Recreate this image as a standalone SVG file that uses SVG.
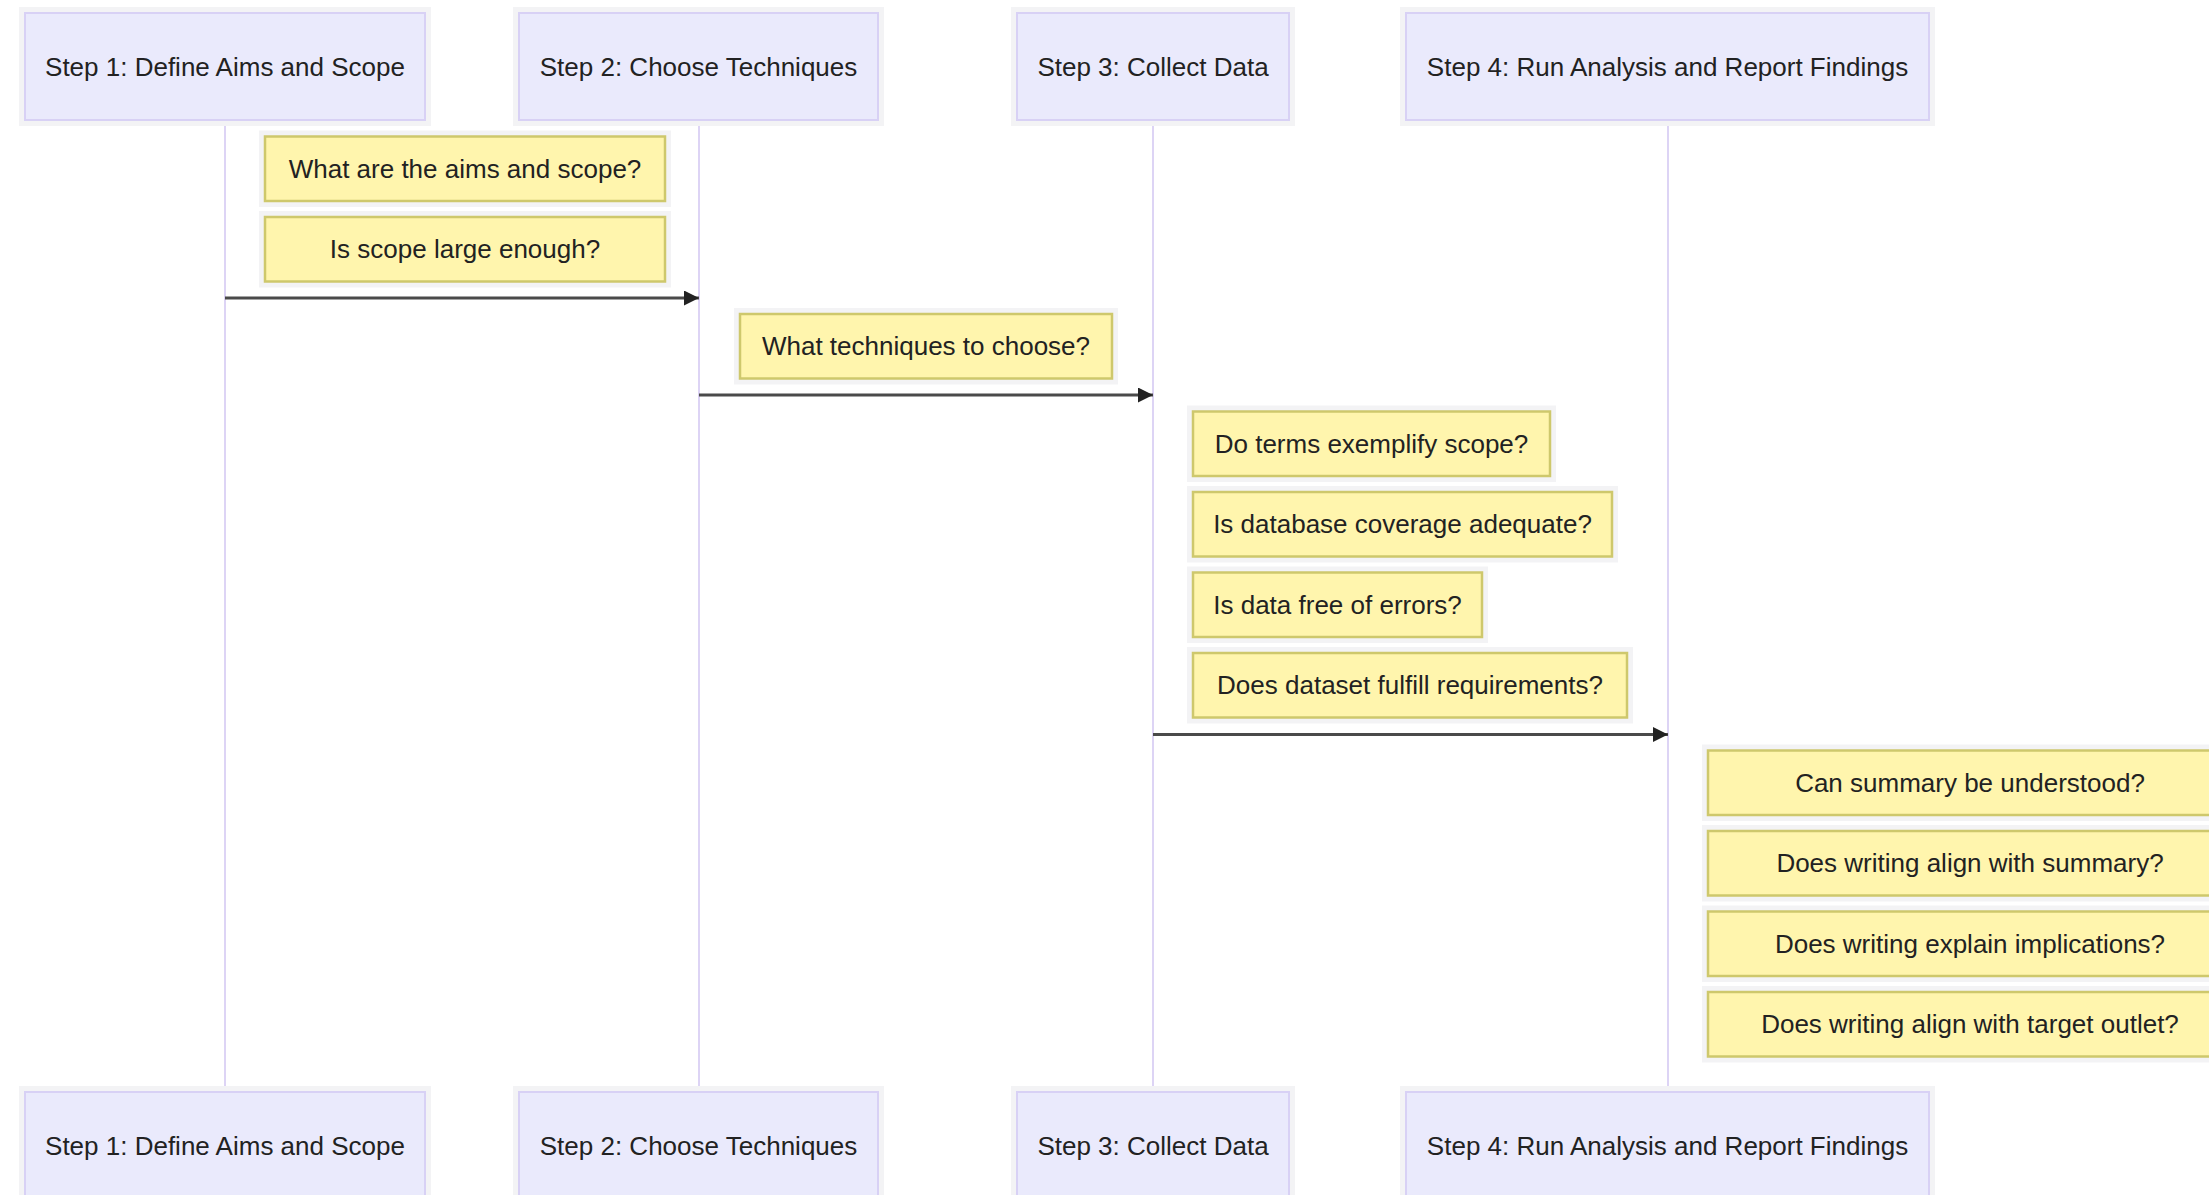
<svg xmlns="http://www.w3.org/2000/svg" width="2209" height="1195" viewBox="0 0 2209 1195">
<style>
.bg{fill:#ffffff}
.sh{fill:#f3f3f5}
.actor{fill:#eaeafc;stroke:#d8d1f5;stroke-width:2}
.note{fill:#fff5ad;stroke:#cec86c;stroke-width:2.5}
.life{stroke:#ddd4f5;stroke-width:2;fill:none}
.msg{stroke:#4a4a4a;stroke-width:3;fill:none}
.lbl{font-family:"Liberation Sans",Arial,sans-serif;font-size:26px;fill:#222222;text-anchor:middle;dominant-baseline:central}
</style>
<defs>
<marker id="arrow" viewBox="0 0 10 10" refX="10" refY="5" markerWidth="15" markerHeight="15" markerUnits="userSpaceOnUse" orient="auto">
<path d="M0,0 L10,5 L0,10 z" fill="#222222"/>
</marker>
</defs>
<rect class="bg" x="0" y="0" width="2209" height="1195"/>
<g id="lifelines">
<line class="life" x1="225" y1="120" x2="225" y2="1092"/>
<line class="life" x1="699" y1="120" x2="699" y2="1092"/>
<line class="life" x1="1153" y1="120" x2="1153" y2="1092"/>
<line class="life" x1="1668" y1="120" x2="1668" y2="1092"/>
</g>
<g id="actor-step1-top">
<rect class="sh" x="19" y="7" width="412" height="119"/>
<rect class="actor" x="25" y="13" width="400" height="107"/>
<text class="lbl" x="225" y="66.5">Step 1: Define Aims and Scope</text>
</g>
<g id="actor-step2-top">
<rect class="sh" x="513" y="7" width="371" height="119"/>
<rect class="actor" x="519" y="13" width="359" height="107"/>
<text class="lbl" x="698.5" y="66.5">Step 2: Choose Techniques</text>
</g>
<g id="actor-step3-top">
<rect class="sh" x="1011" y="7" width="284" height="119"/>
<rect class="actor" x="1017" y="13" width="272" height="107"/>
<text class="lbl" x="1153" y="66.5">Step 3: Collect Data</text>
</g>
<g id="actor-step4-top">
<rect class="sh" x="1400" y="7" width="535" height="119"/>
<rect class="actor" x="1406" y="13" width="523" height="107"/>
<text class="lbl" x="1667.5" y="66.5">Step 4: Run Analysis and Report Findings</text>
</g>
<g id="note1">
<rect class="sh" x="259" y="130.5" width="412" height="76.5"/>
<rect class="note" x="265" y="136.5" width="400" height="64.5"/>
<text class="lbl" x="465" y="168.5">What are the aims and scope?</text>
</g>
<g id="note2">
<rect class="sh" x="259" y="211" width="412" height="76.5"/>
<rect class="note" x="265" y="217" width="400" height="64.5"/>
<text class="lbl" x="465" y="249">Is scope large enough?</text>
</g>
<g id="note3">
<rect class="sh" x="734" y="308" width="384" height="76.5"/>
<rect class="note" x="740" y="314" width="372" height="64.5"/>
<text class="lbl" x="926" y="346">What techniques to choose?</text>
</g>
<g id="note4">
<rect class="sh" x="1187" y="405.5" width="369" height="76.5"/>
<rect class="note" x="1193" y="411.5" width="357" height="64.5"/>
<text class="lbl" x="1371.5" y="443.5">Do terms exemplify scope?</text>
</g>
<g id="note5">
<rect class="sh" x="1187" y="486" width="431" height="76.5"/>
<rect class="note" x="1193" y="492" width="419" height="64.5"/>
<text class="lbl" x="1402.5" y="524">Is database coverage adequate?</text>
</g>
<g id="note6">
<rect class="sh" x="1187" y="566.5" width="301" height="76.5"/>
<rect class="note" x="1193" y="572.5" width="289" height="64.5"/>
<text class="lbl" x="1337.5" y="604.5">Is data free of errors?</text>
</g>
<g id="note7">
<rect class="sh" x="1187" y="647" width="446" height="76.5"/>
<rect class="note" x="1193" y="653" width="434" height="64.5"/>
<text class="lbl" x="1410" y="685">Does dataset fulfill requirements?</text>
</g>
<g id="note8">
<rect class="sh" x="1702" y="744.5" width="536" height="76.5"/>
<rect class="note" x="1708" y="750.5" width="524" height="64.5"/>
<text class="lbl" x="1970" y="782.5">Can summary be understood?</text>
</g>
<g id="note9">
<rect class="sh" x="1702" y="825" width="536" height="76.5"/>
<rect class="note" x="1708" y="831" width="524" height="64.5"/>
<text class="lbl" x="1970" y="863">Does writing align with summary?</text>
</g>
<g id="note10">
<rect class="sh" x="1702" y="905.5" width="536" height="76.5"/>
<rect class="note" x="1708" y="911.5" width="524" height="64.5"/>
<text class="lbl" x="1970" y="943.5">Does writing explain implications?</text>
</g>
<g id="note11">
<rect class="sh" x="1702" y="986" width="536" height="76.5"/>
<rect class="note" x="1708" y="992" width="524" height="64.5"/>
<text class="lbl" x="1970" y="1024">Does writing align with target outlet?</text>
</g>
<g id="connectors">
<line class="msg" x1="225" y1="298" x2="699" y2="298" marker-end="url(#arrow)"/>
<line class="msg" x1="699" y1="395" x2="1153" y2="395" marker-end="url(#arrow)"/>
<line class="msg" x1="1153" y1="734.5" x2="1668" y2="734.5" marker-end="url(#arrow)"/>
</g>
<g id="actor-step1-bottom">
<rect class="sh" x="19" y="1086" width="412" height="119"/>
<rect class="actor" x="25" y="1092" width="400" height="107"/>
<text class="lbl" x="225" y="1145.5">Step 1: Define Aims and Scope</text>
</g>
<g id="actor-step2-bottom">
<rect class="sh" x="513" y="1086" width="371" height="119"/>
<rect class="actor" x="519" y="1092" width="359" height="107"/>
<text class="lbl" x="698.5" y="1145.5">Step 2: Choose Techniques</text>
</g>
<g id="actor-step3-bottom">
<rect class="sh" x="1011" y="1086" width="284" height="119"/>
<rect class="actor" x="1017" y="1092" width="272" height="107"/>
<text class="lbl" x="1153" y="1145.5">Step 3: Collect Data</text>
</g>
<g id="actor-step4-bottom">
<rect class="sh" x="1400" y="1086" width="535" height="119"/>
<rect class="actor" x="1406" y="1092" width="523" height="107"/>
<text class="lbl" x="1667.5" y="1145.5">Step 4: Run Analysis and Report Findings</text>
</g>
</svg>
